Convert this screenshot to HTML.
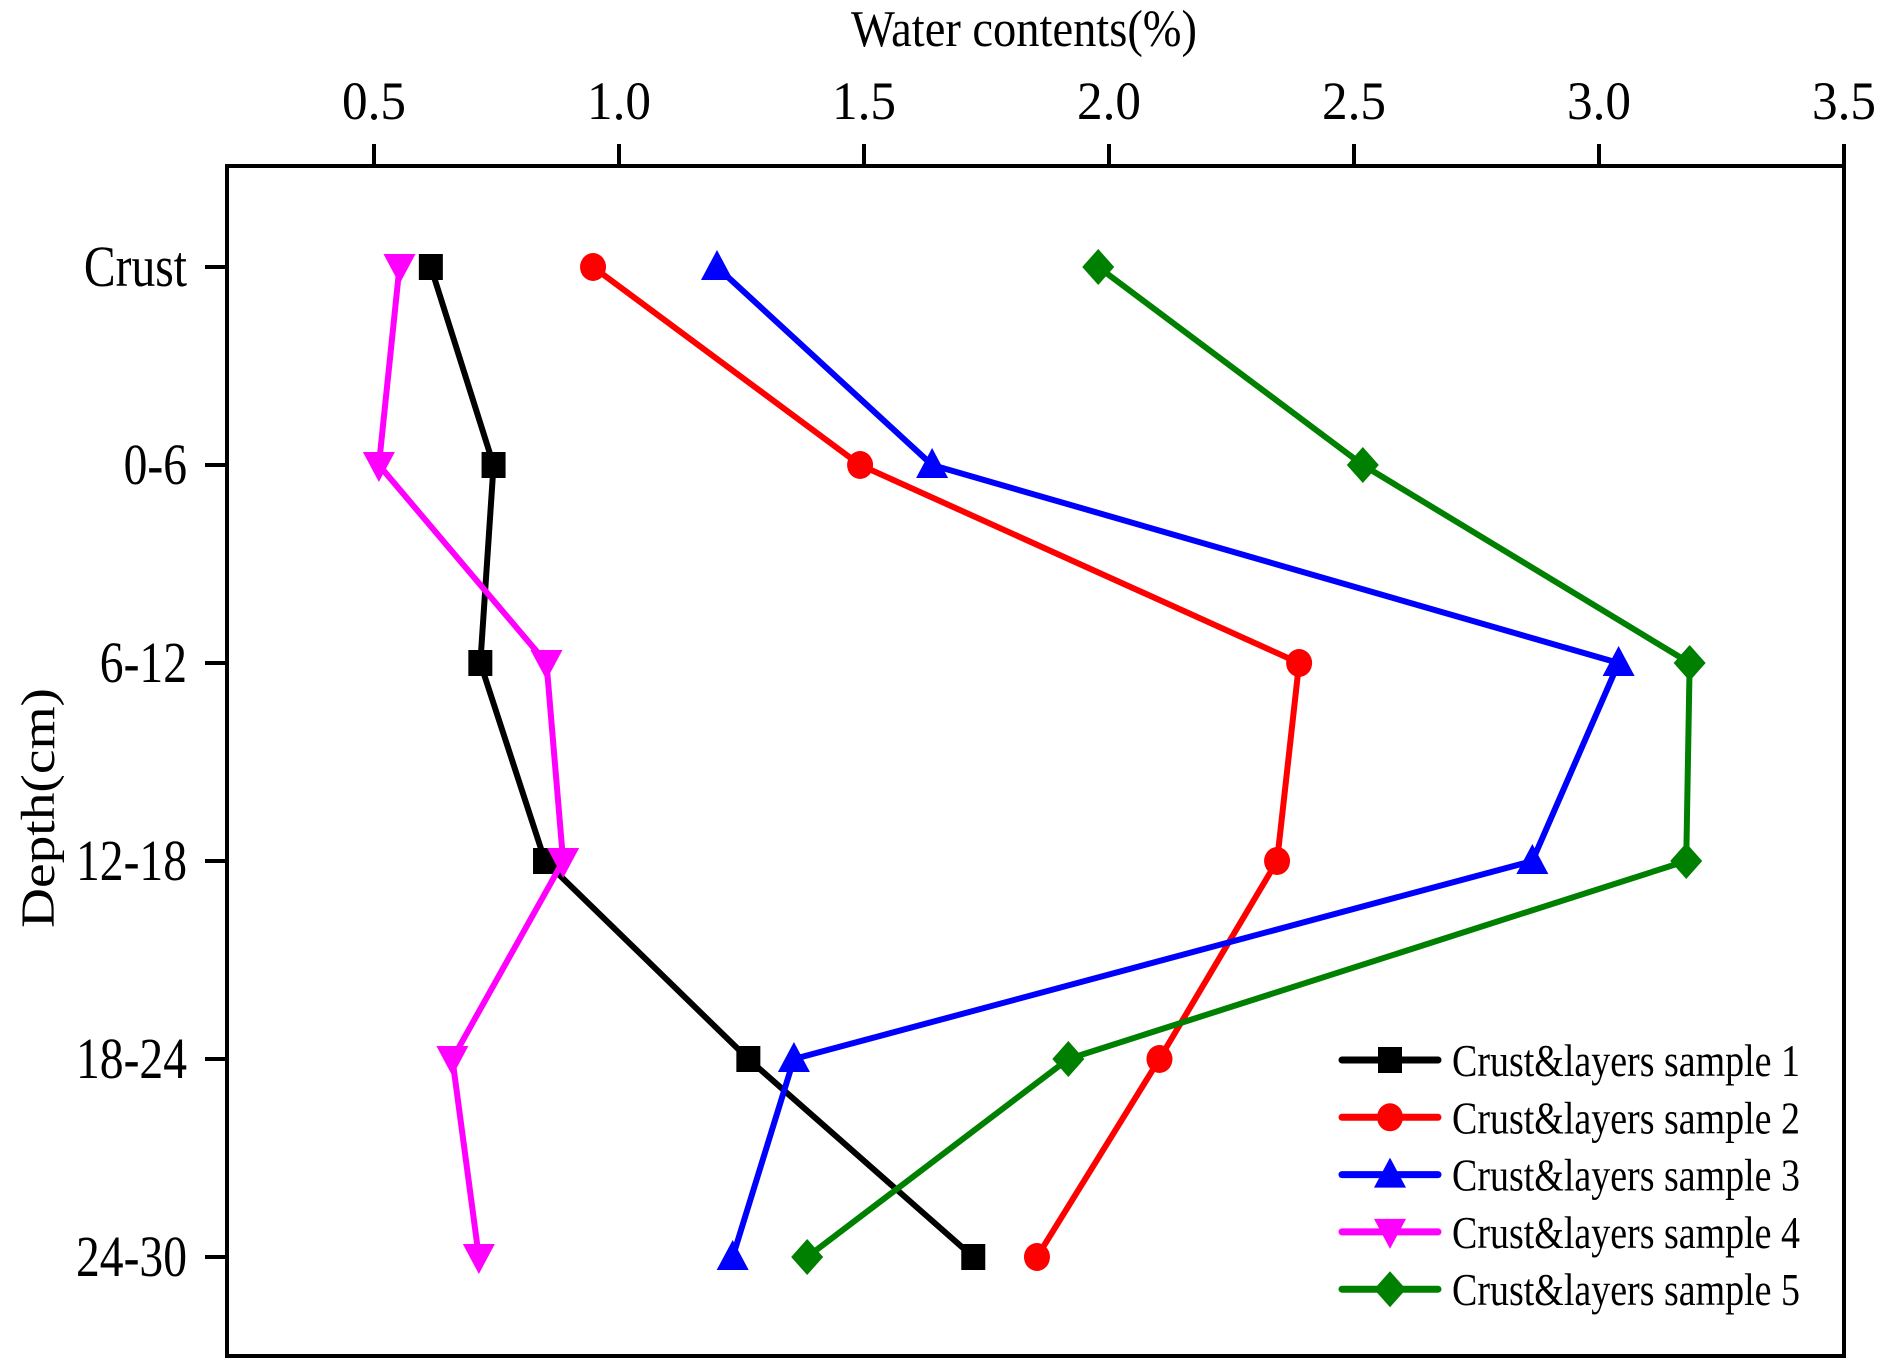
<!DOCTYPE html>
<html><head><meta charset="utf-8"><style>
html,body{margin:0;padding:0;background:#fff;}
svg{display:block;font-family:"Liberation Serif",serif;}
</style></head>
<body>
<svg id="chart" width="1886" height="1371" viewBox="0 0 1886 1371" xmlns="http://www.w3.org/2000/svg">
<rect x="0" y="0" width="1886" height="1371" fill="#fff"/>
<g id="axes"></g>
<g id="series"></g>
<g id="legend"></g>
</svg>
<script>
const categories = ["Crust","0-6","6-12","12-18","18-24","24-30"];
const xTicks = [0.5,1.0,1.5,2.0,2.5,3.0,3.5];
const xTickLabels = ["0.5","1.0","1.5","2.0","2.5","3.0","3.5"];
const seriesNames = ["Crust&layers sample 1","Crust&layers sample 2","Crust&layers sample 3","Crust&layers sample 4","Crust&layers sample 5"];
const s1 = [0.616,0.744,0.717,0.849,1.264,1.723];
const s2 = [0.947,1.492,2.388,2.343,2.103,1.853];
const s3 = [1.200,1.639,3.040,2.864,1.357,1.232];
const s4 = [0.552,0.510,0.852,0.886,0.660,0.714];
const s5 = [1.978,2.518,3.185,3.178,1.917,1.384];

const NS="http://www.w3.org/2000/svg";
const L=227,R=1844,T=166,B=1356;
function xs(v){return 374+(v-0.5)*490;}
function ys(i){return 267+i*198;}
function mk(tag,attrs,parent){const e=document.createElementNS(NS,tag);for(const k in attrs)e.setAttribute(k,attrs[k]);parent.appendChild(e);return e;}
function condense(t,f){const w=t.getComputedTextLength();t.setAttribute('textLength',(w*f).toFixed(1));t.setAttribute('lengthAdjust','spacingAndGlyphs');}
const axes=document.getElementById('axes');
const fr=mk('rect',{x:L,y:T,width:R-L,height:B-T,fill:'none',stroke:'#000','stroke-width':4},axes);


xTicks.forEach((v,i)=>{
  const t=mk('line',{x1:xs(v),x2:xs(v),y1:T,y2:T-22,stroke:'#000','stroke-width':4},axes);
  
  
  const tx=mk('text',{x:xs(v),y:119,'text-anchor':'middle','font-size':54,textLength:64,lengthAdjust:'spacingAndGlyphs'},axes);
  tx.textContent=xTickLabels[i];
  
  
});
categories.forEach((c,i)=>{
  const t=mk('line',{x1:L,x2:L-22,y1:ys(i),y2:ys(i),stroke:'#000','stroke-width':4},axes);
  
  
  const tx=mk('text',{x:187,y:ys(i)+19,'text-anchor':'end','font-size':58},axes);
  tx.textContent=c;
  condense(tx,0.82);
  
  
});
const xt=mk('text',{x:1024,y:46,'text-anchor':'middle','font-size':52,textLength:346,lengthAdjust:'spacingAndGlyphs'},axes);
xt.textContent="Water contents(%)";


const yt=mk('text',{x:0,y:0,'text-anchor':'middle','font-size':48,transform:'translate(54,808) rotate(-90)',textLength:240,lengthAdjust:'spacingAndGlyphs'},axes);
yt.textContent="Depth(cm)";



const colors=["#000000","#ff0000","#0000ff","#ff00ff","#008000"];
const shapes=["square","circle","triangle","invtriangle","diamond"];
const allSeries=[s1,s2,s3,s4,s5];
function marker(shape,cx,cy,color,parent){
  let e;
  if(shape==='square') e=mk('rect',{x:cx-12,y:cy-13,width:24,height:26,fill:color},parent);
  else if(shape==='circle') e=mk('ellipse',{cx:cx,cy:cy,rx:13,ry:14,fill:color},parent);
  else if(shape==='triangle') e=mk('polygon',{points:`${cx},${cy-17} ${cx+16},${cy+13} ${cx-16},${cy+13}`,fill:color},parent);
  else if(shape==='invtriangle') e=mk('polygon',{points:`${cx},${cy+17} ${cx+16},${cy-13} ${cx-16},${cy-13}`,fill:color},parent);
  else e=mk('polygon',{points:`${cx},${cy-18} ${cx+16},${cy} ${cx},${cy+18} ${cx-16},${cy}`,fill:color},parent);
  return e;
}
const sg=document.getElementById('series');
allSeries.forEach((arr,si)=>{
  const g=mk('g',{},sg);
  
  
  const pts=arr.map((v,i)=>xs(v)+','+ys(i)).join(' ');
  const pl=mk('polyline',{points:pts,fill:'none',stroke:colors[si],'stroke-width':6,'stroke-linejoin':'round'},g);
  
  
  arr.forEach((v,i)=>{
    const m=marker(shapes[si],xs(v),ys(i),colors[si],g);
    
    
  });
});
const lg=document.getElementById('legend');
seriesNames.forEach((n,si)=>{
  const y=1060+si*57.3;
  const g=mk('g',{},lg);
  
  
  mk('line',{x1:1342,x2:1438,y1:y,y2:y,stroke:colors[si],'stroke-width':7,'stroke-linecap':'round'},g);
  marker(shapes[si],1390,y,colors[si],g);
  const t=mk('text',{x:1452,y:y+16,'font-size':46,textLength:348,lengthAdjust:'spacingAndGlyphs'},g);
  t.textContent=n;
});
</script>
</body></html>
